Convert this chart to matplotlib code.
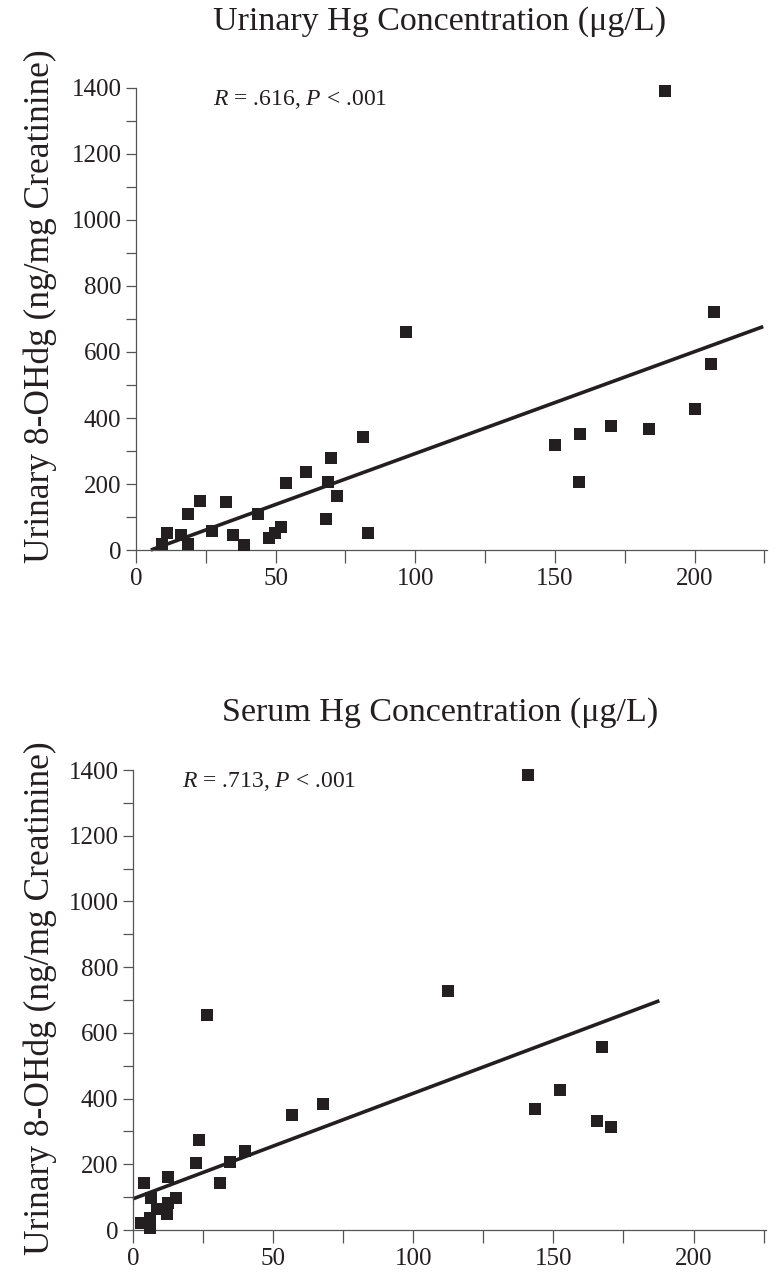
import matplotlib
matplotlib.use("Agg")
import matplotlib.pyplot as plt
from matplotlib.ticker import MultipleLocator

plt.rcParams['font.family'] = ['Liberation Serif', 'DejaVu Serif']
plt.rcParams['mathtext.fontset'] = 'custom'
plt.rcParams['mathtext.rm'] = 'Liberation Serif'
plt.rcParams['mathtext.it'] = 'Liberation Serif:italic'

# Urinary Hg vs urinary 8-OHdg
urine_hg = [9.2, 11, 16, 18.5, 18.7, 22.9, 27.2, 32.3, 34.6, 38.6, 43.5, 47.5, 49.8, 51.9,
            53.6, 61, 68.1, 68.9, 69.8, 71.9, 81.2, 83.1, 96.7, 150.1, 158.5, 159, 170.1,
            183.6, 189.5, 200, 205.8, 207]
urine_ohdg = [17, 52, 45, 110, 18, 148, 58, 146, 47, 15, 108, 35, 52, 71,
              204, 237, 93, 205, 280, 165, 341, 52, 660, 318, 205, 351, 376,
              366, 1392, 427, 565, 721]
urine_fit_x = [5.3, 224.6]
urine_fit_y = [0, 677]

# Serum Hg vs urinary 8-OHdg
serum_hg = [2.8, 4, 6.1, 6.1, 6.3, 8.5, 12, 12.5, 12.5, 15.2, 22.4, 23.6, 26.5, 30.9,
            34.5, 39.9, 56.6, 67.8, 112.4, 141, 143.3, 152.3, 165.6, 167.5, 170.6]
serum_ohdg = [20, 142, 6, 36, 99, 65, 50, 81, 160, 98, 204, 275, 656, 142,
              206, 240, 350, 383, 728, 1385, 369, 426, 331, 558, 315]
serum_fit_x = [0, 187.8]
serum_fit_y = [95, 698]

ink = '#231f20'
ylab = 'Urinary 8-OHdg (ng/mg Creatinine)'

fig = plt.figure(figsize=(7.84, 12.86), dpi=100)

panels = [
    ([0.1735, 0.5723, 0.805, 0.3593], urine_hg, urine_ohdg, urine_fit_x, urine_fit_y,
     'Urinary Hg Concentration (μg/L)', 0.983, 0.762, r'$\it{R}$ = .616, $\it{P}$ < .001', 27.5),
    ([0.1696, 0.0435, 0.808, 0.3577], serum_hg, serum_ohdg, serum_fit_x, serum_fit_y,
     'Serum Hg Concentration (μg/L)', 0.446, 0.224, r'$\it{R}$ = .713, $\it{P}$ < .001', 17.5),
]

for rect, xs, ys, fx, fy, title, ty, ly, note, nx in panels:
    ax = fig.add_axes(rect)
    ax.plot(xs, ys, 's', color=ink, ms=9.3, mew=0, clip_on=False, zorder=3)
    ax.plot(fx, fy, '-', color=ink, lw=2.6, solid_capstyle='butt', clip_on=False)
    ax.set_xlim(0, 226)
    ax.set_ylim(0, 1400)
    for s in ['top', 'right']:
        ax.spines[s].set_visible(False)
    for s in ['left', 'bottom']:
        ax.spines[s].set_color('#555555')
        ax.spines[s].set_linewidth(0.9)
    ax.xaxis.set_major_locator(MultipleLocator(50))
    ax.xaxis.set_minor_locator(MultipleLocator(25))
    ax.yaxis.set_major_locator(MultipleLocator(200))
    ax.yaxis.set_minor_locator(MultipleLocator(100))
    ax.tick_params(which='both', direction='out', color='#555555', width=0.9,
                   labelsize=18, labelcolor=ink)
    ax.tick_params(axis='x', which='both', length=9, pad=4)
    ax.tick_params(axis='y', which='both', length=7.5, pad=3)
    ax.text(nx, 1365, note, fontsize=17, color=ink, va='center', ha='left')
    fig.text(0.561, ty, title, fontsize=24.5, color=ink, ha='center', va='center')
    fig.text(0.051, ly, ylab, fontsize=25.5, color=ink, rotation=90, ha='center', va='center')

fig.savefig('out.png', dpi=100)
